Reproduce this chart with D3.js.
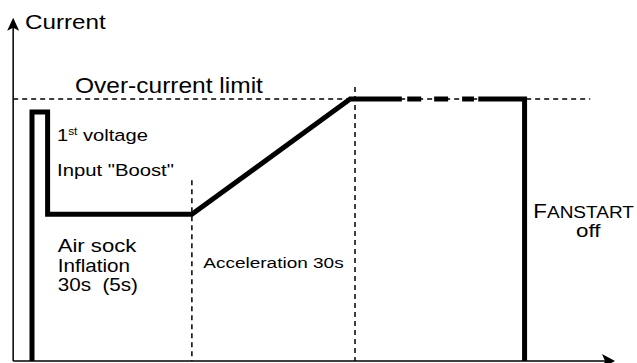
<!DOCTYPE html>
<html><head><meta charset="utf-8">
<script src="https://cdn.jsdelivr.net/npm/d3@7"></script>
<style>
body{margin:0;background:#fff}
svg{display:block}
text{font-family:"Liberation Sans",Arial,Helvetica,sans-serif;fill:#000;white-space:pre}
</style>
</head><body>
<svg id="chart" width="637" height="363"></svg>
<script>
// ---- data (time in s, current in % of over-current limit) ----
const profileTime    = [0, 0, 2.9, 2.9, 29.7, 59.1, 68.7];
const profileCurrent = [0, 95, 95, 56, 56, 100, 100];
const plateauDashStart = [69.7, 74.7, 79.9];
const plateauDashEnd   = [72.3, 77.3, 82.1];
const stopTime    = [82.9, 91.5, 91.5];
const stopCurrent = [100, 100, 0];
const limitCurrent = 100;
const phaseBoundaries = [29.7, 60];
const phaseBoundaryTop = [69, 104.6];
const axisTimeRange = [-3.5, 108.3];
const axisCurrentMax = 131;
const limitTimeEnd = 103.7;

const svg = d3.select("#chart");
const x = d3.scaleLinear().domain([0, 60]).range([32, 355]);
const y = d3.scaleLinear().domain([0, 100]).range([361, 99]);

const line = d3.line().x(d => x(d[0])).y(d => y(d[1]));

// over-current limit (thin dashed)
svg.append("path")
  .attr("d", line([[axisTimeRange[0], limitCurrent], [limitTimeEnd, limitCurrent]]))
  .attr("stroke", "#000").attr("stroke-width", 1.5).attr("stroke-dasharray", "5,4").attr("fill", "none");

// phase boundaries
phaseBoundaries.forEach((t, i) => {
  svg.append("path")
    .attr("d", line([[t, phaseBoundaryTop[i]], [t, 0]]))
    .attr("stroke", "#000").attr("stroke-width", 1.5).attr("stroke-dasharray", "5,4").attr("fill", "none");
});

// axes
const x0 = x(axisTimeRange[0]);
svg.append("line").attr("x1", x0).attr("x2", x(axisTimeRange[1]) - 6)
  .attr("y1", y(0)).attr("y2", y(0)).attr("stroke", "#000").attr("stroke-width", 1.5);
svg.append("line").attr("x1", x0).attr("x2", x0)
  .attr("y1", y(0)).attr("y2", y(axisCurrentMax) + 6).attr("stroke", "#000").attr("stroke-width", 1.5);
// arrowheads
const ty = y(axisCurrentMax);
svg.append("path").attr("d", `M${x0},${ty} L${x0+6},${ty+13} L${x0},${ty+10} L${x0-6},${ty+13} Z`).attr("fill", "#000");
const tx = x(axisTimeRange[1]), by = y(0);
svg.append("path").attr("d", `M${tx},${by} L${tx-13},${by-7} L${tx-10},${by} L${tx-13},${by+7} Z`).attr("fill", "#000");

// current profile
const thick = s => s.attr("stroke", "#000").attr("stroke-width", 5).attr("fill", "none")
  .attr("stroke-linejoin", "miter").attr("stroke-linecap", "butt");
svg.append("path").attr("d", line(profileTime.map((t, i) => [t, profileCurrent[i]]))).call(thick);
plateauDashStart.forEach((t, i) => {
  svg.append("path").attr("d", line([[t, limitCurrent], [plateauDashEnd[i], limitCurrent]])).call(thick);
});
svg.append("path").attr("d", line(stopTime.map((t, i) => [t, stopCurrent[i]]))).call(thick);

// labels
function label(px, py, width, build, anchor) {
  const g = svg.append("g");
  const t = g.append("text");
  build(t);
  const w = t.node().getBBox().width;
  const sx = width / w;
  const ox = anchor === "middle" ? -width / 2 : 0;
  g.attr("transform", `translate(${px + ox},${py}) scale(${sx},1)`);
}
const simple = (txt, size) => t => t.attr("font-size", size).text(txt);

label(25, 29, 81, simple("Current", 21));
label(75, 92.7, 188, simple("Over-current limit", 22));
label(57, 140.7, 91, t => {
  t.attr("font-size", 17);
  t.append("tspan").text("1");
  t.append("tspan").attr("font-size", 10).attr("dy", -6).text("st");
  t.append("tspan").attr("dy", 6).text(" voltage");
});
label(57, 176, 117, simple('Input "Boost"', 17));
label(57.7, 252, 79, simple("Air sock", 17.5));
label(57.7, 271.5, 72.3, simple("Inflation", 17.5));
label(57.7, 291, 80.3, simple("30s  (5s)", 17.5));
label(203.3, 268.3, 140.7, simple("Acceleration 30s", 15.5));
label(533.3, 218.3, 100.7, t => {
  t.append("tspan").attr("font-size", 20).text("F");
  t.append("tspan").attr("font-size", 17).text("ANSTART");
});
label(588.8, 236.7, 25.7, simple("off", 18), "middle");
</script>
</body></html>
